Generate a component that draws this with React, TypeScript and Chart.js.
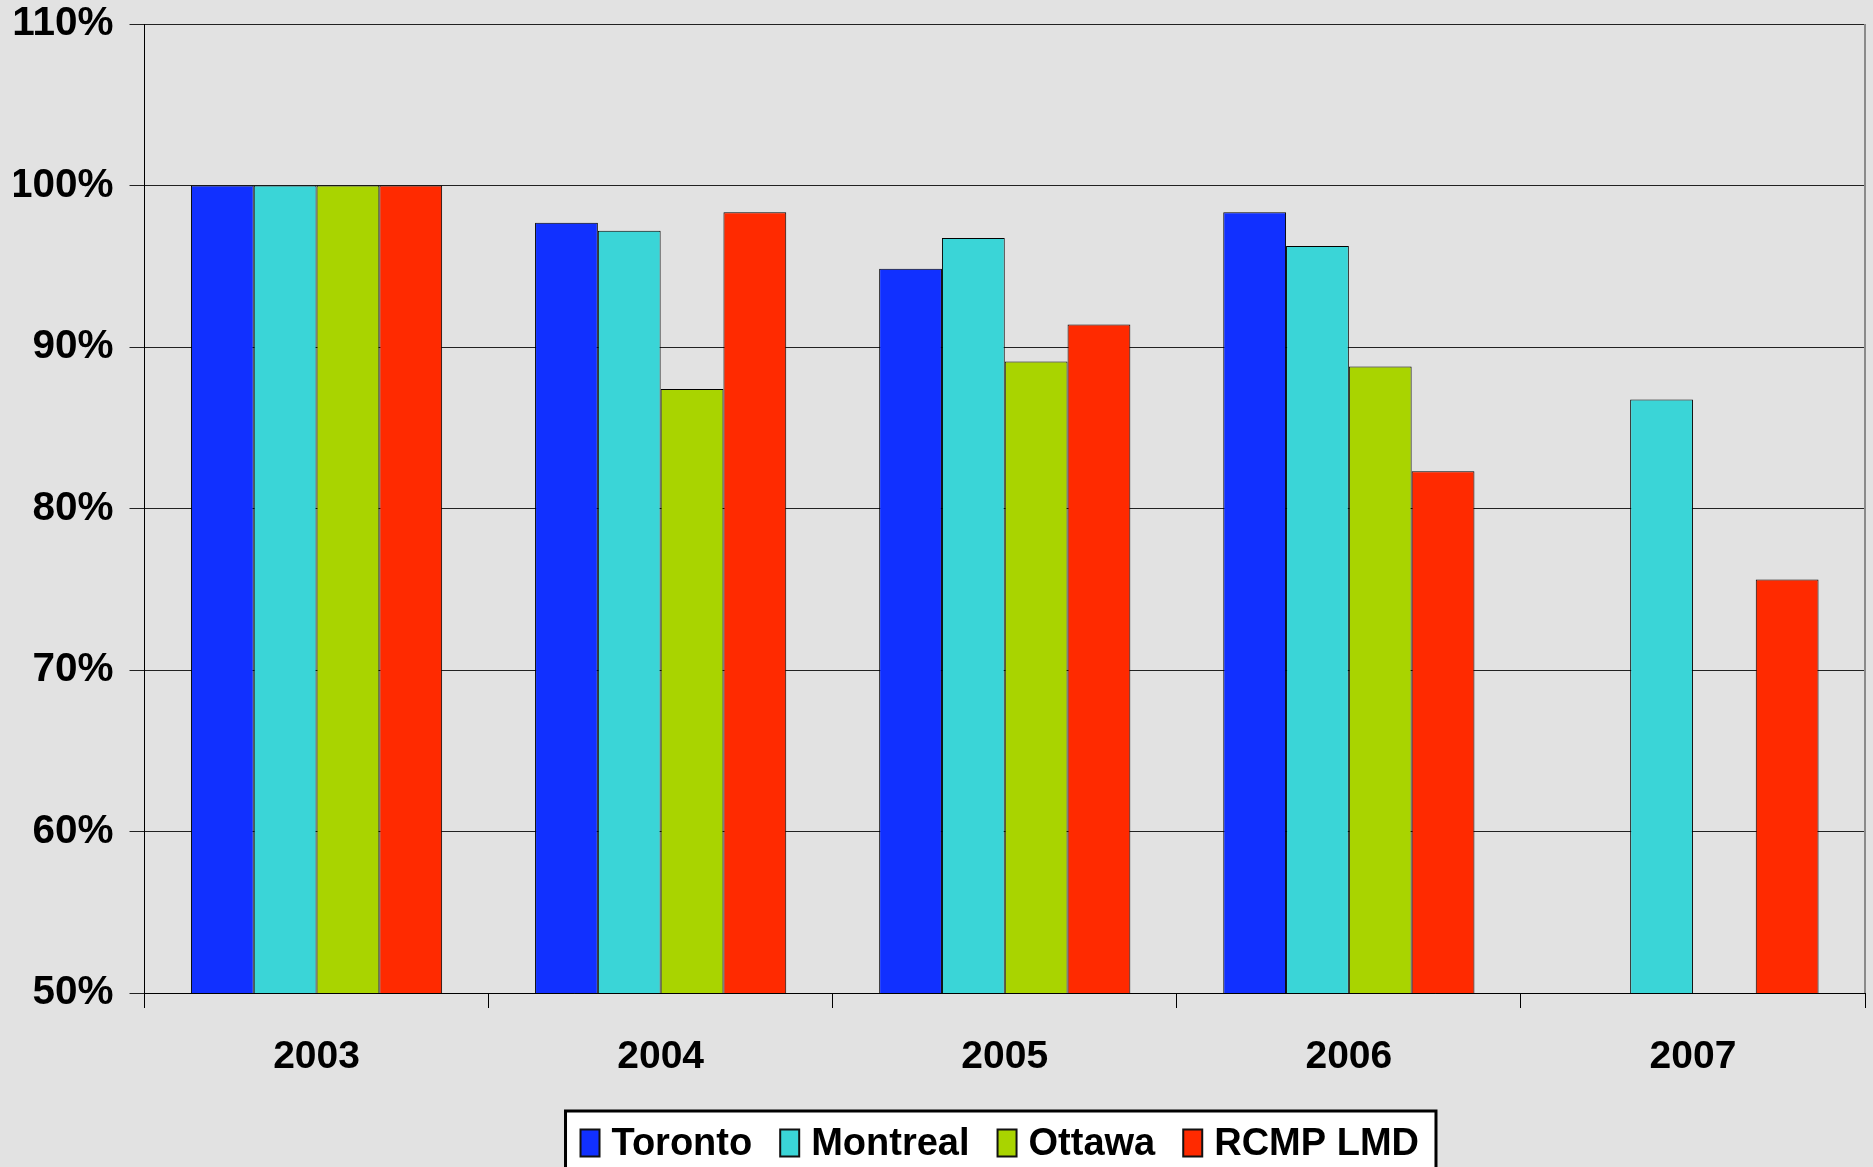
import React, { useEffect, useRef } from "react";
import { Chart, registerables } from "chart.js";

Chart.register(...registerables);

const categories = ["2003", "2004", "2005", "2006", "2007"];
const seriesNames = ["Toronto", "Montreal", "Ottawa", "RCMP LMD"];
const toronto = [100, 97.7, 94.85, 98.35, null];
const montreal = [100, 97.2, 96.75, 96.25, 86.75];
const ottawa = [100, 87.4, 89.1, 88.8, null];
const rcmp = [100, 98.35, 91.4, 82.3, 75.6];
const yTicks = [50, 60, 70, 80, 90, 100, 110];

const colors = ["#1130ff", "#3ad5d7", "#a9d400", "#ff2a00"];
const FONT = '"Liberation Sans", Arial, Helvetica, sans-serif';

const frameAndLegend = {
  id: "frameAndLegend",
  afterDraw(chart: any) {
    const ctx = chart.ctx as CanvasRenderingContext2D;
    const ca = chart.chartArea;
    ctx.save();
    // right border of plot
    ctx.strokeStyle = "#8a8a8a";
    ctx.lineWidth = 2;
    ctx.beginPath();
    ctx.moveTo(ca.right, ca.top);
    ctx.lineTo(ca.right, ca.bottom);
    ctx.stroke();

    // legend
    ctx.font = `bold 38px ${FONT}`;
    const boxW = 19, boxH = 27, gap = 12, itemGap = 28, padL = 15, padR = 17;
    const items = chart.data.datasets.map((ds: any) => ({
      label: ds.label,
      color: ds.backgroundColor,
      w: ctx.measureText(ds.label).width,
    }));
    let total = padL + padR;
    items.forEach((it: any, i: number) => {
      total += boxW + gap + it.w + (i < items.length - 1 ? itemGap : 0);
    });
    const cx = (ca.left + ca.right) / 2 - 4;
    const left = cx - total / 2;
    const top = chart.height - 56;
    ctx.fillStyle = "#ffffff";
    ctx.fillRect(left, top, total, chart.height - top + 10);
    ctx.lineWidth = 3;
    ctx.strokeStyle = "#000";
    ctx.strokeRect(left, top, total, chart.height - top + 10);
    const cy = top + 32;
    let x = left + padL;
    ctx.textBaseline = "middle";
    ctx.textAlign = "left";
    items.forEach((it: any) => {
      ctx.fillStyle = it.color;
      ctx.fillRect(x, cy - boxH / 2, boxW, boxH);
      ctx.lineWidth = 2;
      ctx.strokeStyle = "#111";
      ctx.strokeRect(x, cy - boxH / 2, boxW, boxH);
      x += boxW + gap;
      ctx.fillStyle = "#000";
      ctx.fillText(it.label, x, cy + 2);
      x += it.w + itemGap;
    });
    ctx.restore();
  },
};

export default function App() {
  const ref = useRef<HTMLCanvasElement | null>(null);
  useEffect(() => {
    if (!ref.current) return;
    const seriesData = [toronto, montreal, ottawa, rcmp];
    const chart = new Chart(ref.current, {
      type: "bar",
      data: {
        labels: categories,
        datasets: seriesNames.map((name, i) => ({
          label: name,
          data: seriesData[i],
          backgroundColor: colors[i],
          borderColor: "#000",
          borderWidth: 1,
          categoryPercentage: 0.73,
          barPercentage: 1.0,
        })),
      },
      options: {
        responsive: false,
        maintainAspectRatio: false,
        animation: false,
        layout: { padding: { top: 24, left: 14, right: 8, bottom: 85 } },
        plugins: {
          legend: { display: false },
          tooltip: { enabled: false },
        },
        scales: {
          x: {
            afterFit: (axis: any) => {
              axis.height = 89;
              axis.paddingLeft = 0;
              axis.paddingRight = 0;
            },
            grid: {
              display: true,
              drawOnChartArea: false,
              drawTicks: true,
              tickLength: 15,
              color: "#000",
              offset: true,
            },
            border: { display: true, color: "#000", width: 1 },
            ticks: {
              color: "#000",
              font: { family: FONT, size: 39, weight: "bold" },
              padding: 26,
              maxRotation: 0,
            },
          },
          y: {
            min: 50,
            max: 110,
            afterBuildTicks: (axis: any) => {
              axis.ticks = yTicks.map((v) => ({ value: v }));
            },
            afterFit: (axis: any) => {
              axis.width = 130.5;
              axis.paddingTop = 0;
              axis.paddingBottom = 0;
            },
            grid: {
              color: "#222",
              lineWidth: 1,
              tickLength: 15,
              drawTicks: true,
            },
            border: { display: true, color: "#000", width: 1 },
            ticks: {
              color: "#000",
              font: { family: FONT, size: 40.5, weight: "bold" },
              padding: 16,
              callback: (v: any) => `${v}%`,
            },
          },
        },
      },
      plugins: [frameAndLegend],
    });
    return () => chart.destroy();
  }, []);
  return (
    <div
      style={{
        position: "fixed",
        left: 0,
        top: 0,
        width: 1873,
        height: 1167,
        background: "#e2e2e2",
        overflow: "hidden",
      }}
    >
      <canvas ref={ref} width={1873} height={1167} style={{ display: "block" }} />
    </div>
  );
}
